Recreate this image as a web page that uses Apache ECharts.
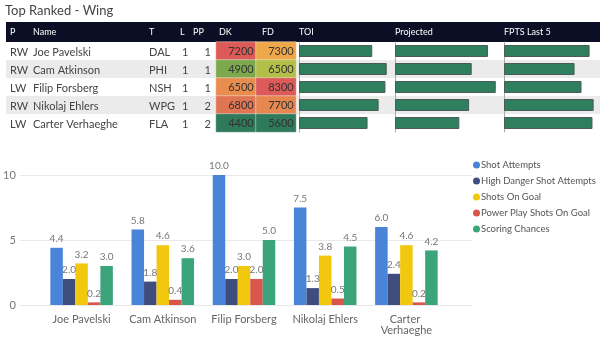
<!DOCTYPE html>
<html lang="en">
<head>
    <meta charset="UTF-8">
    <title>Top Ranked - Wing</title>
    <script src="https://cdn.jsdelivr.net/npm/echarts@6/dist/echarts.min.js"></script>
    <style>
        body { margin: 0; background: #fff; }
        #main { width: 600px; height: 354px; }
    </style>
</head>
<body>
    <div id="main"></div>

    <script type="text/javascript">
        // 表格数据
        var players = ['Joe Pavelski', 'Cam Atkinson', 'Filip Forsberg', 'Nikolaj Ehlers', 'Carter Verhaeghe'];
        var positions = ['RW', 'RW', 'LW', 'RW', 'LW'];
        var teams = ['DAL', 'PHI', 'NSH', 'WPG', 'FLA'];
        var lines = [1, 1, 1, 1, 1];
        var ppUnits = [1, 1, 1, 2, 2];
        var dkSalary = [7200, 4900, 6500, 6800, 4400];
        var fdSalary = [7300, 6500, 8300, 7700, 5600];
        var toi = [17.2, 20.6, 20.3, 18.7, 16.1];
        var projected = [14.3, 11.8, 15.5, 11.4, 9.9];
        var fptsLast5 = [14.8, 12.2, 13.4, 15.5, 15.3];

        // 柱状图数据
        var shotAttempts = [4.4, 5.8, 10.0, 7.5, 6.0];
        var highDanger = [2.0, 1.8, 2.0, 1.3, 2.4];
        var shotsOnGoal = [3.2, 4.6, 3.0, 3.8, 4.6];
        var ppShotsOnGoal = [0.2, 0.4, 2.0, 0.5, 0.2];
        var scoringChances = [3.0, 3.6, 5.0, 4.5, 4.2];
        var yTicks = [0, 5, 10];

        var FONT = 'Lato, "Noto Sans", sans-serif';
        var rowTop = 42, rowH = 18;

        var chart = echarts.init(document.getElementById('main'));

        // 表头和行背景
        var graphics = [
            { type: 'text', left: 5, top: 4, style: { text: 'Top Ranked - Wing', fill: '#444', font: '13px ' + FONT } },
            { type: 'rect', shape: { x: 6, y: 22, width: 594, height: 20 }, style: { fill: '#0b0f26' } }
        ];
        var headers = [['P', 10], ['Name', 33], ['T', 149], ['L', 180], ['PP', 193], ['DK', 219], ['FD', 262],
                       ['TOI', 299], ['Projected', 395], ['FPTS Last 5', 504]];
        headers.forEach(function (h) {
            graphics.push({ type: 'text', x: h[1], y: 32, style: { text: h[0], fill: '#fff', font: '9px ' + FONT, verticalAlign: 'middle' } });
        });
        players.forEach(function (name, i) {
            var y = rowTop + rowH * i;
            if (i % 2 === 1) {
                graphics.push({ type: 'rect', z: -10, shape: { x: 6, y: y, width: 594, height: rowH }, style: { fill: '#ebebeb' } });
            }
            var cy = y + rowH / 2 + 1;
            var st = function (t, align) { return { text: String(t), fill: '#444', font: '11px ' + FONT, verticalAlign: 'middle', align: align || 'left' }; };
            graphics.push({ type: 'text', x: 10, y: cy, style: st(positions[i]) });
            graphics.push({ type: 'text', x: 33, y: cy, style: st(name) });
            graphics.push({ type: 'text', x: 149, y: cy, style: st(teams[i]) });
            graphics.push({ type: 'text', x: 182, y: cy, style: st(lines[i]) });
            graphics.push({ type: 'text', x: 211, y: cy, style: st(ppUnits[i], 'right') });
        });

        var heatColors = ['#2e7a5b', '#7aa64e', '#b3bf48', '#e9c24a', '#f0a04a', '#e07a52', '#dc5a58'];
        var dkData = dkSalary.map(function (v, i) { return [0, i, v]; });
        var fdData = fdSalary.map(function (v, i) { return [1, i, v]; });

        function barGrid(idx) {
            return {
                type: 'bar', xAxisIndex: idx, yAxisIndex: idx, barWidth: 12, silent: true,
                itemStyle: { color: '#2e7f5e', borderColor: '#4d5a55', borderWidth: 1 }
            };
        }

        var series = [
            { type: 'heatmap', xAxisIndex: 0, yAxisIndex: 0, data: dkData,
              label: { show: true, position: 'insideRight', distance: 3, color: '#333', fontSize: 11, fontFamily: FONT },
              itemStyle: { borderColor: 'rgba(255,255,255,0.4)', borderWidth: 1 } },
            { type: 'heatmap', xAxisIndex: 0, yAxisIndex: 0, data: fdData,
              label: { show: true, position: 'insideRight', distance: 3, color: '#333', fontSize: 11, fontFamily: FONT },
              itemStyle: { borderColor: 'rgba(255,255,255,0.4)', borderWidth: 1 } },
            Object.assign(barGrid(1), { data: toi }),
            Object.assign(barGrid(2), { data: projected }),
            Object.assign(barGrid(3), { data: fptsLast5 })
        ];

        var barNames = ['Shot Attempts', 'High Danger Shot Attempts', 'Shots On Goal', 'Power Play Shots On Goal', 'Scoring Chances'];
        var barData = [shotAttempts, highDanger, shotsOnGoal, ppShotsOnGoal, scoringChances];
        var barColors = ['#4a84d9', '#3e4d7e', '#f2c80f', '#d9564c', '#3ca47b'];
        barNames.forEach(function (n, k) {
            series.push({
                name: n, type: 'bar', xAxisIndex: 4, yAxisIndex: 4, data: barData[k],
                barGap: '0%', barCategoryGap: '23%',
                itemStyle: { color: barColors[k] },
                label: { show: true, position: 'top', distance: 4, color: '#777', fontSize: 10, fontFamily: FONT,
                         formatter: function (p) { return p.value.toFixed(1); } }
            });
        });

        var noLine = { show: false };
        var tableCat = function (g) {
            return { type: 'category', gridIndex: g, inverse: true, data: players,
                     axisLabel: noLine, axisTick: noLine, axisLine: { show: g > 0, lineStyle: { color: '#aaa' } }, splitLine: noLine };
        };

        chart.setOption({
            animation: false,
            textStyle: { fontFamily: FONT },
            graphic: graphics,
            color: barColors,
            legend: {
                orient: 'vertical', left: 468, top: 155, icon: 'circle',
                itemWidth: 7, itemHeight: 7, itemGap: 6,
                textStyle: { color: '#555', fontSize: 9.5, padding: [0, 0, 0, -4] },
                data: barNames
            },
            visualMap: [
                { show: false, seriesIndex: 0, dimension: 2, min: Math.min.apply(null, dkSalary), max: Math.max.apply(null, dkSalary), inRange: { color: heatColors } },
                { show: false, seriesIndex: 1, dimension: 2, min: Math.min.apply(null, fdSalary), max: Math.max.apply(null, fdSalary), inRange: { color: heatColors } }
            ],
            grid: [
                { left: 216, top: rowTop, width: 80, height: rowH * 5 },
                { left: 299, top: rowTop, width: 89, height: rowH * 5 },
                { left: 395, top: rowTop, width: 104, height: rowH * 5 },
                { left: 504, top: rowTop, width: 96, height: rowH * 5 },
                { left: 41, top: 175, width: 406, bottom: 49 },
                { left: 15, top: 175, width: 457, bottom: 49 }
            ],
            xAxis: [
                { type: 'category', show: false, data: ['DK', 'FD'] },
                { type: 'value', show: false, min: 0, max: 20.9, gridIndex: 1 },
                { type: 'value', show: false, min: 0, max: 16.0, gridIndex: 2 },
                { type: 'value', show: false, min: 0, max: 16.6, gridIndex: 3 },
                { type: 'category', gridIndex: 4, data: players,
                  axisLine: noLine, axisTick: noLine, splitLine: noLine,
                  axisLabel: { color: '#666', fontSize: 11, margin: 9, width: 70, overflow: 'break', interval: 0 } },
                { type: 'value', show: false, gridIndex: 5, min: 0, max: 1 }
            ],
            yAxis: [
                tableCat(0), tableCat(1), tableCat(2), tableCat(3),
                { type: 'value', gridIndex: 4, show: false, min: yTicks[0], max: yTicks[yTicks.length - 1], interval: 5, splitLine: noLine },
                { type: 'value', gridIndex: 5, min: yTicks[0], max: yTicks[yTicks.length - 1], interval: 5,
                  axisLine: noLine, axisTick: noLine,
                  axisLabel: { color: '#777', fontSize: 11, margin: 4 },
                  splitLine: { lineStyle: { color: '#e9e9e9' } } }
            ],
            series: series
        });
    </script>
</body>
</html>
